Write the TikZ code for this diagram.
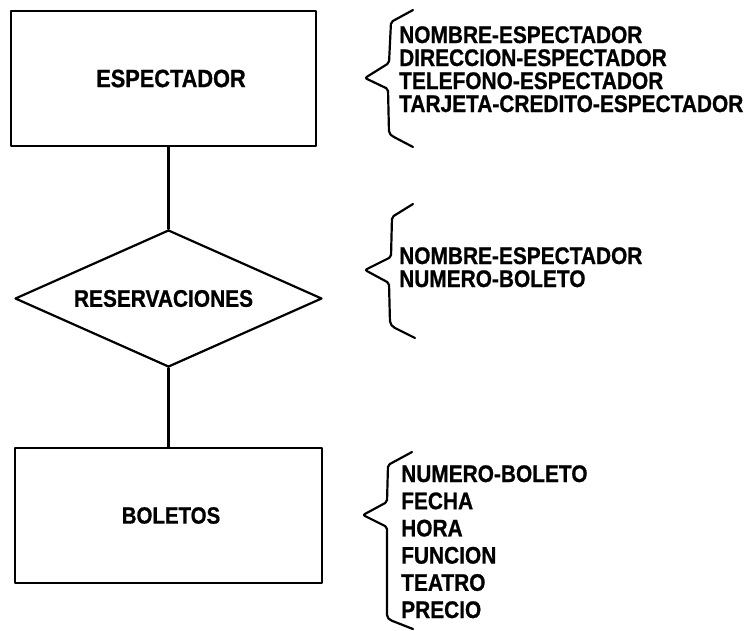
\documentclass[tikz,border=0pt]{standalone}
\usepackage{fontspec}
\setmainfont[FakeStretch=0.87, BoldFeatures={FakeBold=0.8}]{Liberation Sans}
\usetikzlibrary{shapes.geometric}
\begin{document}
\begin{tikzpicture}[x=1pt,y=-1pt,
  ln/.style={line width=2.2pt, line join=round, line cap=round},
  entbox/.style={draw, ln, rectangle, minimum width=305pt, minimum height=135pt, inner sep=0pt, font=\bfseries\fontsize{24}{26}\selectfont},
  relbox/.style={draw, ln, diamond, minimum width=307pt, minimum height=137pt, aspect=2.24, inner sep=0pt, font=\bfseries\fontsize{24}{26}\selectfont},
  attr/.style={anchor=base west, inner sep=0pt, text height=17pt, text depth=0pt, font=\bfseries\fontsize{24}{26}\selectfont},
  brace/.style={ln, rounded corners=2pt}]
\useasboundingbox (0,0) rectangle (752,630);

\node[entbox, font=\bfseries\fontsize{25}{27}\selectfont] (esp) at (163.5,78.5) {\hspace*{15pt}ESPECTADOR};
\node[relbox] (res) at (168.5,298.5) {RESERVACIONES\hspace*{10pt}};
\node[entbox, minimum width=307pt, font=\bfseries\fontsize{23.5}{26}\selectfont] (bol) at (168.5,515.5) {\hspace*{5pt}BOLETOS};

\draw[ln] (res.north |- esp.south) -- (res.north);
\draw[ln] (res.south) -- (res.south |- bol.north);

% attribute lists
\foreach \t [count=\i, evaluate=\i as \yy using 43+23*(\i-1)] in
  {NOMBRE-ESPECTADOR,DIRECCION-ESPECTADOR,TELEFONO-ESPECTADOR,TARJETA-CREDITO-ESPECTADOR}
  \node[attr] (a1-\i) at (399,\yy) {\t};
\foreach \t [count=\i, evaluate=\i as \yy using 264+23*(\i-1)] in
  {NOMBRE-ESPECTADOR,NUMERO-BOLETO}
  \node[attr] (a2-\i) at (399,\yy) {\t};
\foreach \t [count=\i, evaluate=\i as \yy using 482+27.2*(\i-1)] in
  {NUMERO-BOLETO,FECHA,HORA,FUNCION,TEATRO,PRECIO}
  \node[attr] (a3-\i) at (401,\yy) {\t};

% braces
\draw[brace] (413,10) -- (391,22) -- (389,63) -- (365,78) -- (388,89) -- (389,133) -- (392,136) -- (413,147);
\draw[brace] (413,204) -- (392,217) -- (391,257) -- (365,270) -- (389,283) -- (390,323) -- (393,327) -- (415,338);
\draw[brace] (412,452) -- (388,465) -- (387,502) -- (363,515) -- (387,527) -- (387,617) -- (390,620) -- (413,629);
\end{tikzpicture}
\end{document}
